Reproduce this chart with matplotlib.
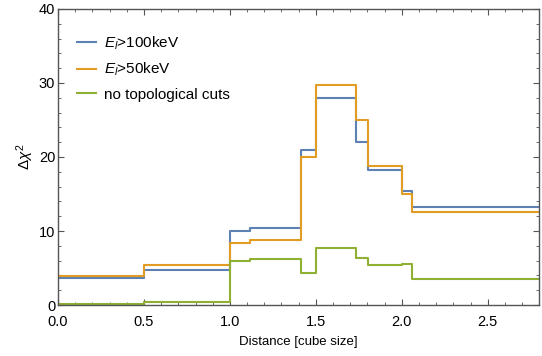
import numpy as np
import matplotlib
matplotlib.use("Agg")
import matplotlib.pyplot as plt
from matplotlib.ticker import MultipleLocator

plt.rcParams['font.family'] = ['Liberation Sans', 'DejaVu Sans']
plt.rcParams['mathtext.fontset'] = 'custom'
plt.rcParams['mathtext.rm'] = 'Liberation Sans'
plt.rcParams['mathtext.it'] = 'Liberation Sans:italic'

# bin edges (distance in cube size)
edges = [0.0, 0.5, 1.0, 1.118, 1.414, 1.5, 1.732, 1.803, 2.0, 2.062, 2.8]
chi_100 = [3.7, 4.7, 10.05, 10.35, 21.0, 28.0, 22.0, 18.3, 15.4, 13.3]
chi_50 = [3.9, 5.45, 8.4, 8.75, 20.0, 29.7, 24.95, 18.75, 15.05, 12.55]
chi_none = [0.1, 0.45, 5.95, 6.25, 4.3, 7.7, 6.3, 5.4, 5.6, 3.55]
labels = ["$E_l$>100keV", "$E_l$>50keV", "no topological cuts"]
colors = ["#5E81B5", "#E19C24", "#8FB032"]

fig = plt.figure(figsize=(5.42, 3.56), dpi=100)
ax = fig.add_axes([0.107, 0.143, 0.888, 0.832])

for vals, lab, col in zip([chi_100, chi_50, chi_none], labels, colors):
    ax.step(edges, vals + [vals[-1]], where='post', color=col, lw=1.5, label=lab)

ax.set_xlim(0, 2.8)
ax.set_ylim(0, 40)
ax.xaxis.set_major_locator(MultipleLocator(0.5))
ax.xaxis.set_minor_locator(MultipleLocator(0.1))
ax.yaxis.set_major_locator(MultipleLocator(10))
ax.yaxis.set_minor_locator(MultipleLocator(2))
ax.xaxis.set_major_formatter(matplotlib.ticker.FormatStrFormatter('%.1f'))
ax.tick_params(which='both', direction='in', top=True, right=True, labelsize=10.5)
ax.tick_params(axis='x', pad=7)
ax.tick_params(axis='y', pad=2)
ax.tick_params(which='major', length=4, width=0.8, color='#555555')
ax.tick_params(which='minor', length=2.5, width=0.6, color='#555555')
for s in ax.spines.values():
    s.set_color('#555555')
    s.set_linewidth(1.0)

ax.set_xlabel("Distance [cube size]", fontsize=9.5, labelpad=5)
ax.set_ylabel("$\\Delta\\chi^2$", fontsize=11, labelpad=2)

ax.legend(loc='upper left', frameon=False, fontsize=11, handlelength=1.3,
          handletextpad=0.5, labelspacing=0.6, bbox_to_anchor=(0.01, 0.96))

fig.savefig("out.png", dpi=100)
